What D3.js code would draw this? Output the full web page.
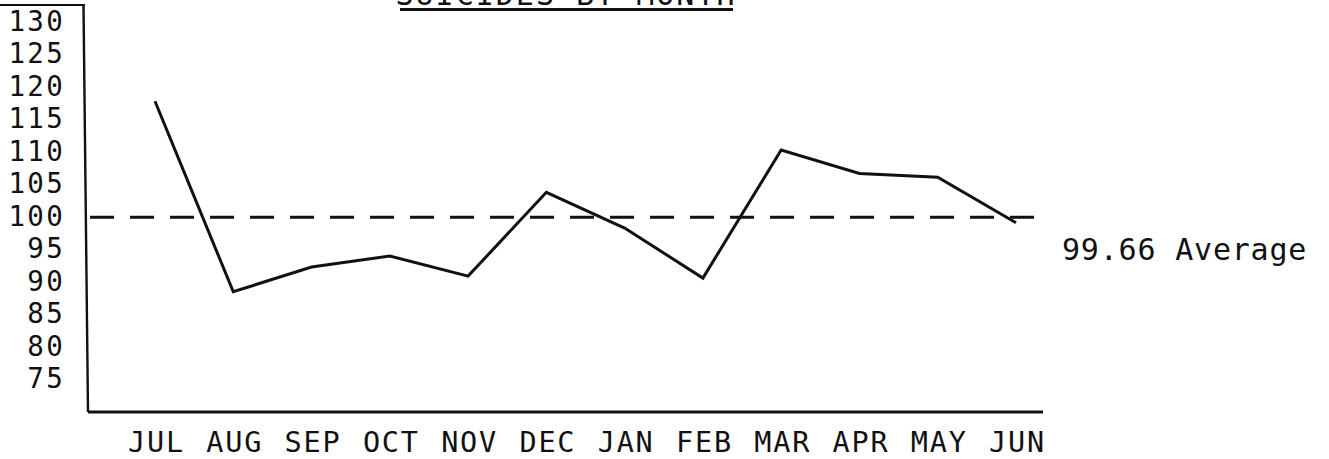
<!DOCTYPE html>
<html>
<head>
<meta charset="utf-8">
<script src="https://cdn.jsdelivr.net/npm/d3@7"></script>
<style>
  html, body { margin: 0; padding: 0; background: #fff; }
  svg { display: block; }
  text { font-family: "DejaVu Sans Mono", "Liberation Mono", monospace; fill: #111; }
</style>
</head>
<body>
<svg id="chart" width="1329" height="459"></svg>
<script>
// ---- data ----
const months = ["JUL", "AUG", "SEP", "OCT", "NOV", "DEC", "JAN", "FEB", "MAR", "APR", "MAY", "JUN"];
const suicides = [117.5, 88.2, 92.0, 93.7, 90.6, 103.5, 98.0, 90.3, 110.0, 106.4, 105.8, 98.8];
const yTickValues = [75, 80, 85, 90, 95, 100, 105, 110, 115, 120, 125, 130];
const averageValue = 99.66;
const averageLabel = "99.66 Average";
const titleText = "SUICIDES BY MONTH";

// ---- layout ----
const svg = d3.select("#chart");
const W = 1329, H = 459;
svg.append("rect").attr("width", W).attr("height", H).attr("fill", "#fff");

const y = d3.scaleLinear().domain([69.7, 130]).range([412, 20]);
const x = d3.scalePoint().domain(months).range([155, 1016]);

const ink = "#111";

// title (mostly cut off at top, as in the scanned original) and underline
svg.append("text")
  .attr("x", 566).attr("y", 5)
  .attr("text-anchor", "middle")
  .style("font-size", "30px")
  .style("letter-spacing", "2px")
  .text(titleText);
svg.append("line")
  .attr("x1", 400).attr("x2", 733).attr("y1", 9.5).attr("y2", 9.5)
  .attr("stroke", ink).attr("stroke-width", 2.8);

// top-left border line
svg.append("line")
  .attr("x1", 0).attr("x2", 85).attr("y1", 5).attr("y2", 5)
  .attr("stroke", ink).attr("stroke-width", 2.2);

// y axis line (slightly slanted, as drawn)
svg.append("line")
  .attr("x1", 83.5).attr("y1", 5).attr("x2", 88).attr("y2", y(69.7))
  .attr("stroke", ink).attr("stroke-width", 2.4);

// x axis line
svg.append("line")
  .attr("x1", 88).attr("x2", 1043).attr("y1", y(69.7)).attr("y2", y(69.7))
  .attr("stroke", ink).attr("stroke-width", 2.8);

// y tick labels
const yAxis = d3.axisLeft(y).tickValues(yTickValues).tickSize(0).tickPadding(0);
const gy = svg.append("g").attr("transform", "translate(65,0)").call(yAxis);
gy.select(".domain").remove();
gy.selectAll("text")
  .attr("fill", ink)
  .attr("dy", null)
  .attr("y", 10)
  .style("font-family", "'DejaVu Sans Mono', monospace")
  .style("font-size", "27.5px")
  .style("letter-spacing", "2.3px");

// x tick labels
const xAxis = d3.axisBottom(x).tickSize(0).tickPadding(0);
const gx = svg.append("g").attr("transform", "translate(1,452)").call(xAxis);
gx.select(".domain").remove();
gx.selectAll("text")
  .attr("fill", ink)
  .attr("dy", null)
  .attr("y", 0)
  .style("font-family", "'DejaVu Sans Mono', monospace")
  .style("font-size", "28.5px")
  .style("letter-spacing", "1.8px");

// average dashed line
svg.append("line")
  .attr("x1", 90).attr("x2", 1047)
  .attr("y1", y(averageValue)).attr("y2", y(averageValue))
  .attr("stroke", ink).attr("stroke-width", 2.8)
  .attr("stroke-dasharray", "24,16");

svg.append("text")
  .attr("x", 1062).attr("y", y(averageValue) + 43)
  .style("font-size", "30px")
  .style("letter-spacing", "0.8px")
  .text(averageLabel);

// data line
const line = d3.line()
  .x((d, i) => x(months[i]))
  .y(d => y(d));
svg.append("path")
  .datum(suicides)
  .attr("d", line)
  .attr("fill", "none")
  .attr("stroke", ink)
  .attr("stroke-width", 3)
  .attr("stroke-linejoin", "miter");
</script>
</body>
</html>
